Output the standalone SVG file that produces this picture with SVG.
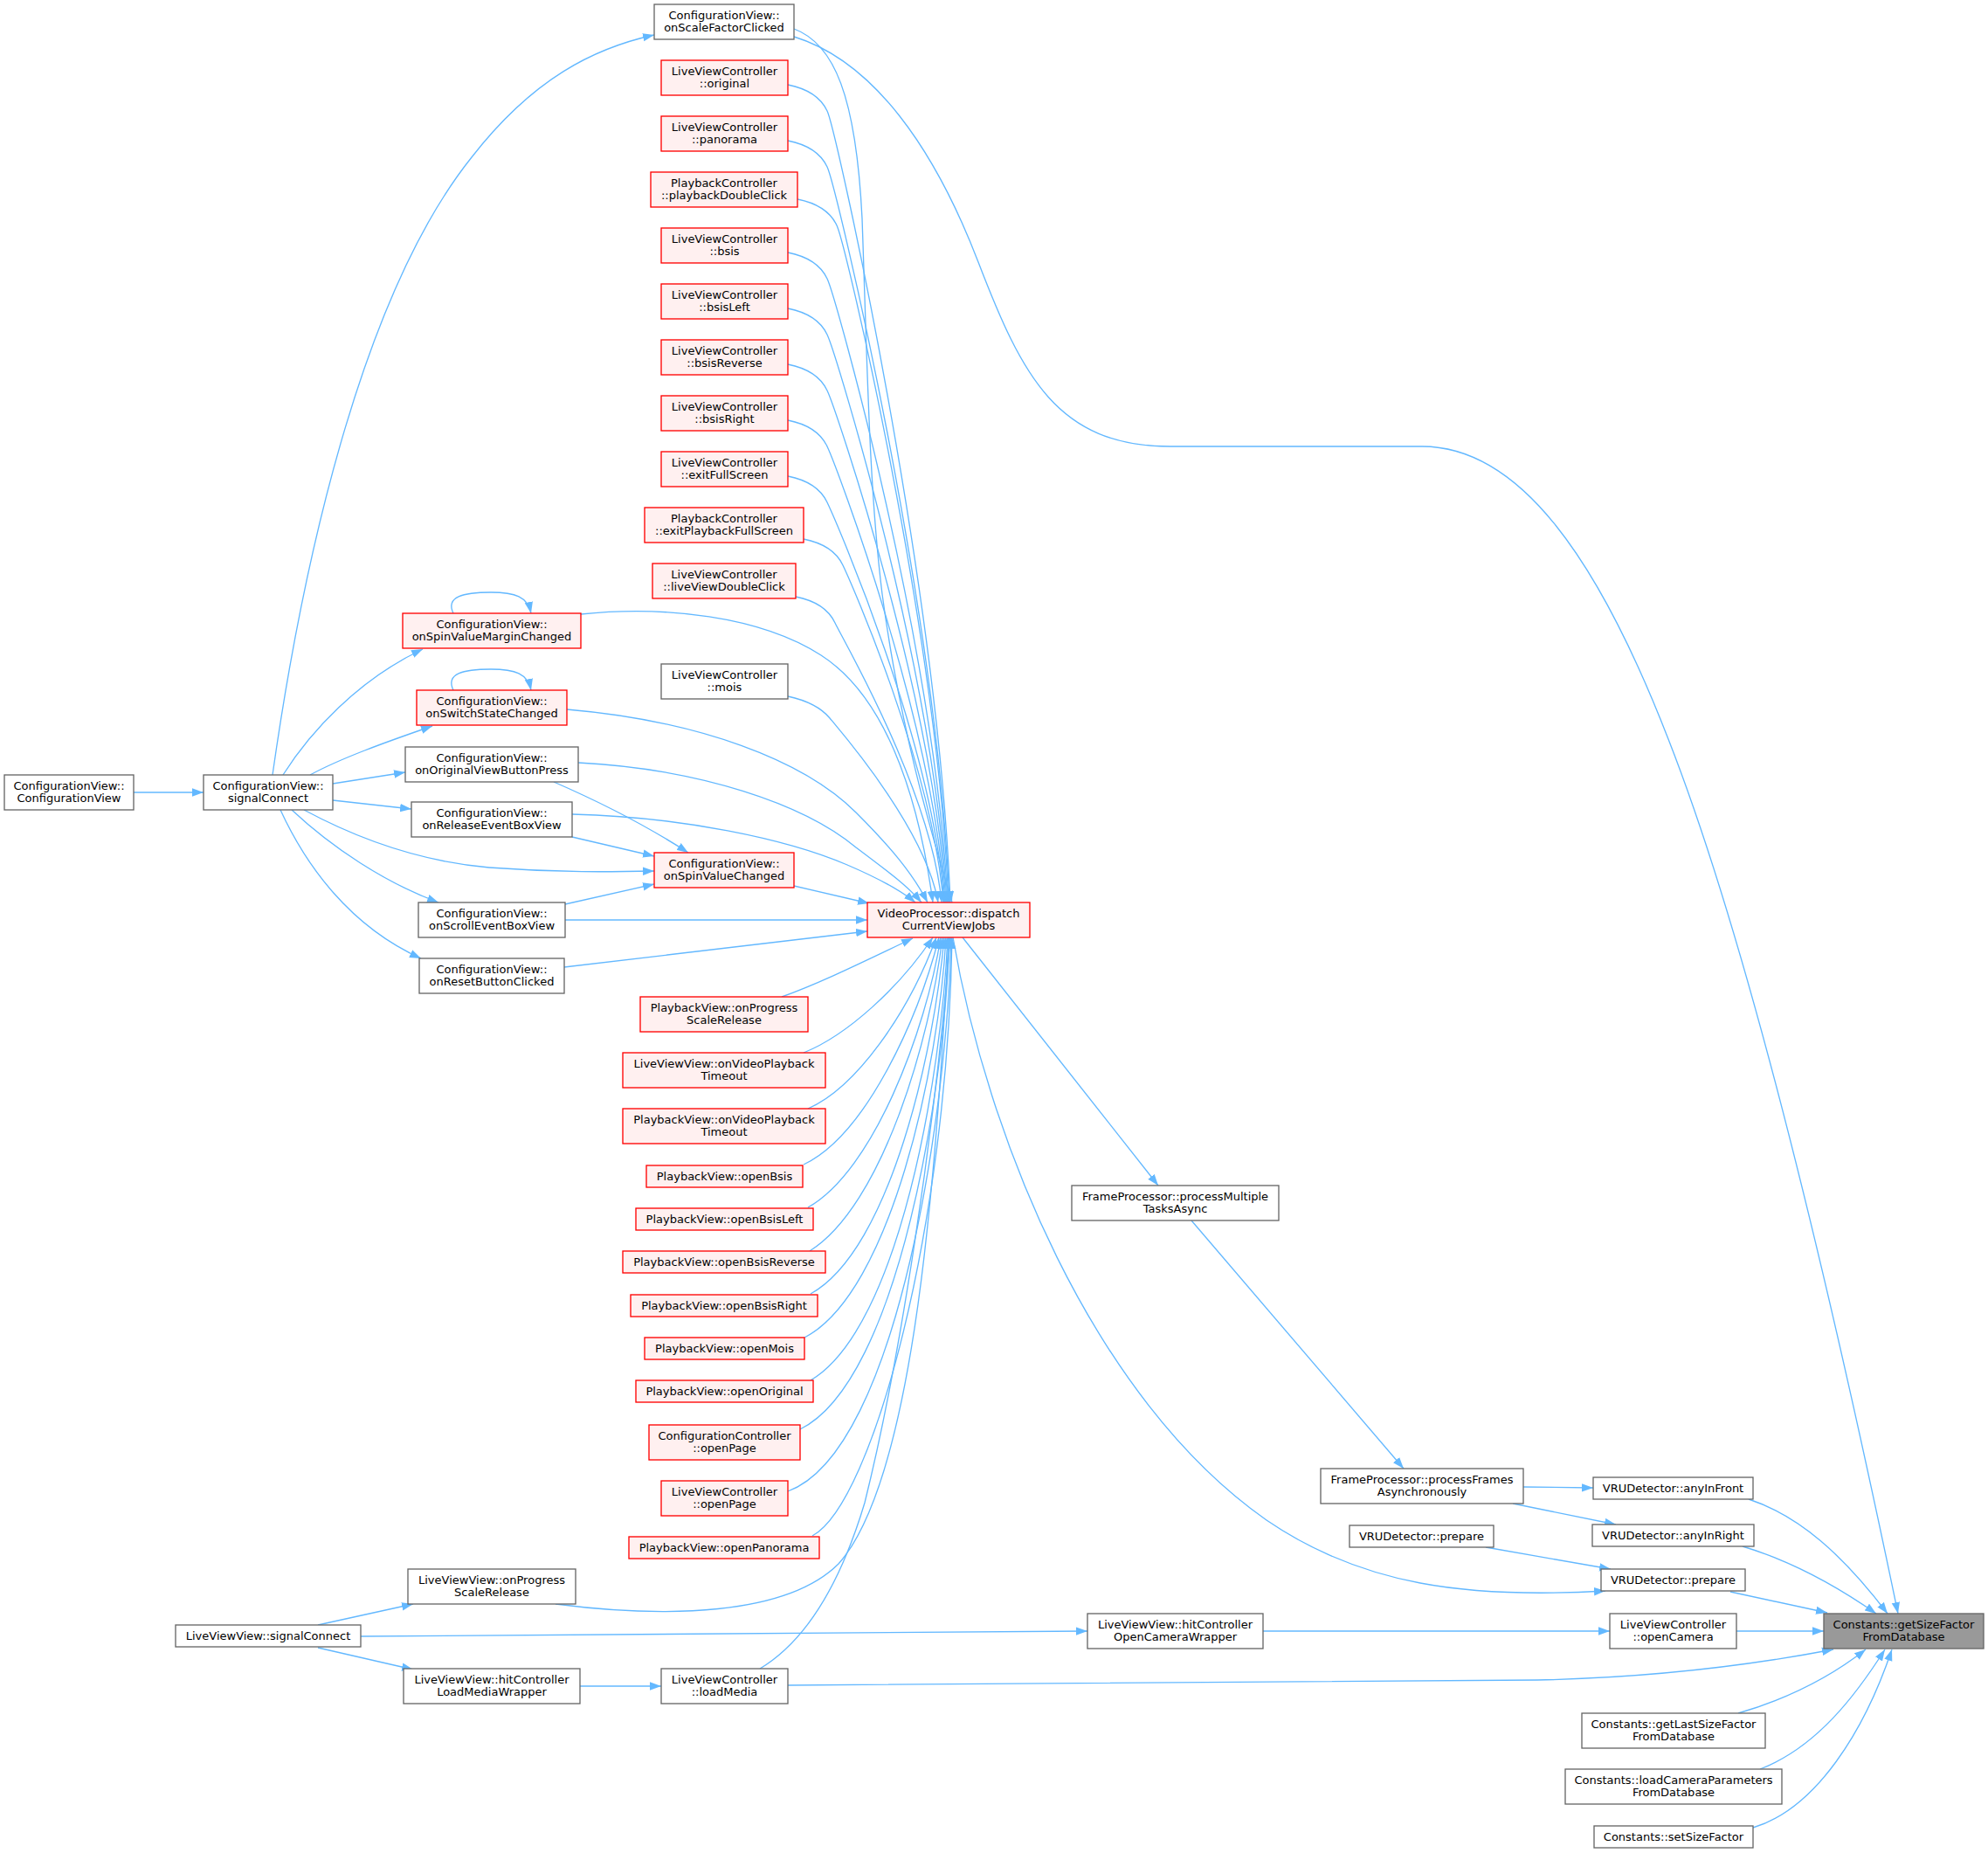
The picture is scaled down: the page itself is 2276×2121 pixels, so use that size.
<svg xmlns="http://www.w3.org/2000/svg" width="2276" height="2121" viewBox="0 0 2276 2121">
<defs>
<style>
.r{fill:#fff0f0;stroke:#ff0000;stroke-width:1.33}
.g{fill:#ffffff;stroke:#666666;stroke-width:1.33}
.root{fill:#999999;stroke:#666666;stroke-width:1.33}
text{font-family:"DejaVu Sans",sans-serif;font-size:13px;text-anchor:middle;fill:#000000}
.e path{fill:none;stroke:#63b8ff;stroke-width:1.33;marker-end:url(#ah)}
</style>
<marker id="ah" markerUnits="userSpaceOnUse" markerWidth="14" markerHeight="10" refX="13" refY="5" orient="auto">
<path d="M0,0.3 L13,5 L0,9.7 z" fill="#63b8ff"/>
</marker>
</defs>
<rect width="2276" height="2121" fill="#ffffff"/>
<g id="edges" class="e">
<path d="M153,907 L233,907"/>
<path d="M312,887 C350,620 420,330 540,180 C610,90 680,55 749,40"/>
<path d="M324,887 C355,838 410,778 484,743"/>
<path d="M355,887 C390,868 440,850 495,831"/>
<path d="M381,897 L464,884"/>
<path d="M381,916 L471,926"/>
<path d="M348,927 C400,955 470,985 560,993 C640,999 700,998 749,997"/>
<path d="M334,927 C380,970 440,1010 502,1033"/>
<path d="M321,927 C350,990 400,1060 482,1097"/>
<path d="M519,702 C510,683 530,678 562,678 C590,678 604,683 608,702"/>
<path d="M519,790 C510,771 530,766 562,766 C590,766 604,771 608,790"/>
<path d="M634,895 C680,915 740,945 788,976"/>
<path d="M655,958 L749,980"/>
<path d="M647,1035 L749,1012"/>
<path d="M665,703 C760,693 870,705 940,750 C1010,795 1050,900 1068,1033"/>
<path d="M649,812 C800,825 920,870 980,930 C1020,970 1045,1000 1062,1033"/>
<path d="M662,873 C800,880 920,920 980,970 C1020,1000 1040,1015 1055,1033"/>
<path d="M655,932 C780,935 900,960 970,990 C1005,1005 1030,1018 1048,1033"/>
<path d="M647,1053 L993,1053"/>
<path d="M646,1107 L993,1066"/>
<path d="M909,1014 L995,1034"/>
<path d="M909,33 C955,50 980,110 987,250 C993,420 995,560 1010,680 C1030,830 1065,950 1090,1033"/>
<path d="M902,97 C927,102 940,112 947,127 C957,148 1074,671 1088,1033"/>
<path d="M902,161 C927,166 940,176 947,191 C957,212 1073,696 1087,1033"/>
<path d="M913,228 C938,233 951,243 958,258 C968,279 1073,723 1086,1033"/>
<path d="M902,289 C927,294 940,304 947,319 C957,340 1071,747 1085,1033"/>
<path d="M902,353 C927,358 940,368 947,383 C957,404 1070,773 1084,1033"/>
<path d="M902,417 C927,422 940,432 947,447 C957,468 1069,799 1083,1033"/>
<path d="M902,481 C927,486 940,496 947,511 C957,532 1068,824 1082,1033"/>
<path d="M902,545 C927,550 940,560 947,575 C957,596 1068,850 1081,1033"/>
<path d="M920,617 C945,622 958,632 965,647 C975,668 1068,879 1080,1033"/>
<path d="M911,683 C936,688 949,698 956,713 C966,734 1066,905 1078,1033"/>
<path d="M902,797 C925,802 940,810 950,822 C965,840 1060,950 1074,1033"/>
<path d="M895,1141 C940,1125 990,1100 1045,1074"/>
<path d="M920,1205 C970,1185 1030,1130 1068,1073"/>
<path d="M925,1269 C980,1245 1040,1160 1072,1073"/>
<path d="M920,1333 C990,1300 1050,1170 1075,1073"/>
<path d="M925,1382 C1000,1340 1060,1180 1077,1073"/>
<path d="M927,1432 C1010,1380 1065,1190 1079,1073"/>
<path d="M928,1481 C1020,1430 1070,1200 1081,1073"/>
<path d="M921,1531 C1020,1480 1075,1220 1083,1073"/>
<path d="M928,1580 C1030,1520 1078,1230 1085,1073"/>
<path d="M916,1636 C1030,1580 1082,1240 1087,1073"/>
<path d="M902,1707 C1030,1660 1085,1260 1089,1073"/>
<path d="M930,1758 C1000,1720 1085,1400 1090,1073"/>
<path d="M636,1836 C760,1852 900,1850 960,1790 C1040,1700 1070,1400 1086,1073"/>
<path d="M870,1910 C920,1880 960,1820 990,1720 C1030,1560 1070,1300 1088,1073"/>
<path d="M364,1860 L473,1836"/>
<path d="M364,1886 L473,1911"/>
<path d="M413,1873 L1245,1867"/>
<path d="M664,1930 L757,1930"/>
<path d="M1446,1867 L1843,1867"/>
<path d="M1988,1867 L2088,1867"/>
<path d="M902,1929 L1760,1923 C1900,1920 2010,1905 2099,1888"/>
<path d="M1102,1073 L1326,1357"/>
<path d="M1091,1073 C1130,1300 1250,1600 1450,1740 C1560,1815 1680,1830 1838,1821"/>
<path d="M1364,1397 L1607,1681"/>
<path d="M1744,1702 L1824,1703"/>
<path d="M1732,1721 L1850,1745"/>
<path d="M1701,1771 L1844,1796"/>
<path d="M2002,1716 C2060,1735 2110,1780 2161,1847"/>
<path d="M1995,1770 C2045,1785 2095,1810 2148,1847"/>
<path d="M1981,1822 L2092,1846"/>
<path d="M1990,1961 C2045,1945 2095,1920 2136,1888"/>
<path d="M2015,2025 C2080,2000 2125,1940 2158,1888"/>
<path d="M2007,2092 C2080,2070 2135,1980 2166,1888"/>
<path d="M909,42 C1000,70 1070,170 1120,300 C1170,430 1210,511 1340,511 L1628,511 C1740,511 1830,640 1910,846 C1990,1050 2080,1400 2173,1847"/>
</g>
<g id="n1"><rect class="g" x="5" y="887" width="148" height="40"/><text x="79" y="903.5">ConfigurationView::</text><text x="79" y="918">ConfigurationView</text></g>
<g id="n2"><rect class="g" x="233" y="887" width="148" height="40"/><text x="307" y="903.5">ConfigurationView::</text><text x="307" y="918">signalConnect</text></g>
<g id="n3"><rect class="g" x="749" y="5" width="160" height="40"/><text x="829" y="21.5">ConfigurationView::</text><text x="829" y="36">onScaleFactorClicked</text></g>
<g id="n4"><rect class="r" x="757" y="69" width="145" height="40"/><text x="829.5" y="85.5">LiveViewController</text><text x="829.5" y="100">::original</text></g>
<g id="n5"><rect class="r" x="757" y="133" width="145" height="40"/><text x="829.5" y="149.5">LiveViewController</text><text x="829.5" y="164">::panorama</text></g>
<g id="n6"><rect class="r" x="745" y="197" width="168" height="40"/><text x="829" y="213.5">PlaybackController</text><text x="829" y="228">::playbackDoubleClick</text></g>
<g id="n7"><rect class="r" x="757" y="261" width="145" height="40"/><text x="829.5" y="277.5">LiveViewController</text><text x="829.5" y="292">::bsis</text></g>
<g id="n8"><rect class="r" x="757" y="325" width="145" height="40"/><text x="829.5" y="341.5">LiveViewController</text><text x="829.5" y="356">::bsisLeft</text></g>
<g id="n9"><rect class="r" x="757" y="389" width="145" height="40"/><text x="829.5" y="405.5">LiveViewController</text><text x="829.5" y="420">::bsisReverse</text></g>
<g id="n10"><rect class="r" x="757" y="453" width="145" height="40"/><text x="829.5" y="469.5">LiveViewController</text><text x="829.5" y="484">::bsisRight</text></g>
<g id="n11"><rect class="r" x="757" y="517" width="145" height="40"/><text x="829.5" y="533.5">LiveViewController</text><text x="829.5" y="548">::exitFullScreen</text></g>
<g id="n12"><rect class="r" x="738" y="581" width="182" height="40"/><text x="829" y="597.5">PlaybackController</text><text x="829" y="612">::exitPlaybackFullScreen</text></g>
<g id="n13"><rect class="r" x="747" y="645" width="164" height="40"/><text x="829" y="661.5">LiveViewController</text><text x="829" y="676">::liveViewDoubleClick</text></g>
<g id="n14"><rect class="g" x="757" y="760" width="145" height="40"/><text x="829.5" y="776.5">LiveViewController</text><text x="829.5" y="791">::mois</text></g>
<g id="n15"><rect class="r" x="461" y="702" width="204" height="40"/><text x="563" y="718.5">ConfigurationView::</text><text x="563" y="733">onSpinValueMarginChanged</text></g>
<g id="n16"><rect class="r" x="477" y="790" width="172" height="40"/><text x="563" y="806.5">ConfigurationView::</text><text x="563" y="821">onSwitchStateChanged</text></g>
<g id="n17"><rect class="g" x="464" y="855" width="198" height="40"/><text x="563" y="871.5">ConfigurationView::</text><text x="563" y="886">onOriginalViewButtonPress</text></g>
<g id="n18"><rect class="g" x="471" y="918" width="184" height="40"/><text x="563" y="934.5">ConfigurationView::</text><text x="563" y="949">onReleaseEventBoxView</text></g>
<g id="n19"><rect class="r" x="749" y="976" width="160" height="40"/><text x="829" y="992.5">ConfigurationView::</text><text x="829" y="1007">onSpinValueChanged</text></g>
<g id="n20"><rect class="g" x="479" y="1033" width="168" height="40"/><text x="563" y="1049.5">ConfigurationView::</text><text x="563" y="1064">onScrollEventBoxView</text></g>
<g id="n21"><rect class="g" x="480" y="1097" width="166" height="40"/><text x="563" y="1113.5">ConfigurationView::</text><text x="563" y="1128">onResetButtonClicked</text></g>
<g id="n22"><rect class="r" x="993" y="1033" width="186" height="40"/><text x="1086" y="1049.5">VideoProcessor::dispatch</text><text x="1086" y="1064">CurrentViewJobs</text></g>
<g id="n23"><rect class="r" x="733" y="1141" width="192" height="40"/><text x="829" y="1157.5">PlaybackView::onProgress</text><text x="829" y="1172">ScaleRelease</text></g>
<g id="n24"><rect class="r" x="713" y="1205" width="232" height="40"/><text x="829" y="1221.5">LiveViewView::onVideoPlayback</text><text x="829" y="1236">Timeout</text></g>
<g id="n25"><rect class="r" x="713" y="1269" width="232" height="40"/><text x="829" y="1285.5">PlaybackView::onVideoPlayback</text><text x="829" y="1300">Timeout</text></g>
<g id="n26"><rect class="r" x="740" y="1334" width="179" height="25"/><text x="829.5" y="1351">PlaybackView::openBsis</text></g>
<g id="n27"><rect class="r" x="728" y="1383" width="203" height="25"/><text x="829.5" y="1400">PlaybackView::openBsisLeft</text></g>
<g id="n28"><rect class="r" x="713" y="1432" width="232" height="25"/><text x="829" y="1449">PlaybackView::openBsisReverse</text></g>
<g id="n29"><rect class="r" x="722" y="1482" width="214" height="25"/><text x="829" y="1499">PlaybackView::openBsisRight</text></g>
<g id="n30"><rect class="r" x="738" y="1531" width="183" height="25"/><text x="829.5" y="1548">PlaybackView::openMois</text></g>
<g id="n31"><rect class="r" x="728" y="1580" width="203" height="25"/><text x="829.5" y="1597">PlaybackView::openOriginal</text></g>
<g id="n32"><rect class="r" x="743" y="1631" width="173" height="40"/><text x="829.5" y="1647.5">ConfigurationController</text><text x="829.5" y="1662">::openPage</text></g>
<g id="n33"><rect class="r" x="757" y="1695" width="145" height="40"/><text x="829.5" y="1711.5">LiveViewController</text><text x="829.5" y="1726">::openPage</text></g>
<g id="n34"><rect class="r" x="720" y="1759" width="218" height="25"/><text x="829" y="1776">PlaybackView::openPanorama</text></g>
<g id="n35"><rect class="g" x="467" y="1796" width="192" height="40"/><text x="563" y="1812.5">LiveViewView::onProgress</text><text x="563" y="1827">ScaleRelease</text></g>
<g id="n36"><rect class="g" x="201" y="1860" width="212" height="25"/><text x="307" y="1877">LiveViewView::signalConnect</text></g>
<g id="n37"><rect class="g" x="462" y="1910" width="202" height="40"/><text x="563" y="1926.5">LiveViewView::hitController</text><text x="563" y="1941">LoadMediaWrapper</text></g>
<g id="n38"><rect class="g" x="757" y="1910" width="145" height="40"/><text x="829.5" y="1926.5">LiveViewController</text><text x="829.5" y="1941">::loadMedia</text></g>
<g id="n39"><rect class="g" x="1227" y="1357" width="237" height="40"/><text x="1345.5" y="1373.5">FrameProcessor::processMultiple</text><text x="1345.5" y="1388">TasksAsync</text></g>
<g id="n40"><rect class="g" x="1512" y="1681" width="232" height="40"/><text x="1628" y="1697.5">FrameProcessor::processFrames</text><text x="1628" y="1712">Asynchronously</text></g>
<g id="n41"><rect class="g" x="1545" y="1746" width="165" height="25"/><text x="1627.5" y="1763">VRUDetector::prepare</text></g>
<g id="n42"><rect class="g" x="1245" y="1847" width="201" height="40"/><text x="1345.5" y="1863.5">LiveViewView::hitController</text><text x="1345.5" y="1878">OpenCameraWrapper</text></g>
<g id="n43"><rect class="g" x="1824" y="1691" width="183" height="25"/><text x="1915.5" y="1708">VRUDetector::anyInFront</text></g>
<g id="n44"><rect class="g" x="1823" y="1745" width="185" height="25"/><text x="1915.5" y="1762">VRUDetector::anyInRight</text></g>
<g id="n45"><rect class="g" x="1833" y="1796" width="165" height="25"/><text x="1915.5" y="1813">VRUDetector::prepare</text></g>
<g id="n46"><rect class="g" x="1843" y="1847" width="145" height="40"/><text x="1915.5" y="1863.5">LiveViewController</text><text x="1915.5" y="1878">::openCamera</text></g>
<g id="n47"><rect class="root" x="2088" y="1847" width="183" height="40"/><text x="2179.5" y="1863.5">Constants::getSizeFactor</text><text x="2179.5" y="1878">FromDatabase</text></g>
<g id="n48"><rect class="g" x="1811" y="1961" width="210" height="40"/><text x="1916" y="1977.5">Constants::getLastSizeFactor</text><text x="1916" y="1992">FromDatabase</text></g>
<g id="n49"><rect class="g" x="1792" y="2025" width="248" height="40"/><text x="1916" y="2041.5">Constants::loadCameraParameters</text><text x="1916" y="2056">FromDatabase</text></g>
<g id="n50"><rect class="g" x="1825" y="2090" width="182" height="25"/><text x="1916" y="2107">Constants::setSizeFactor</text></g>
</svg>
